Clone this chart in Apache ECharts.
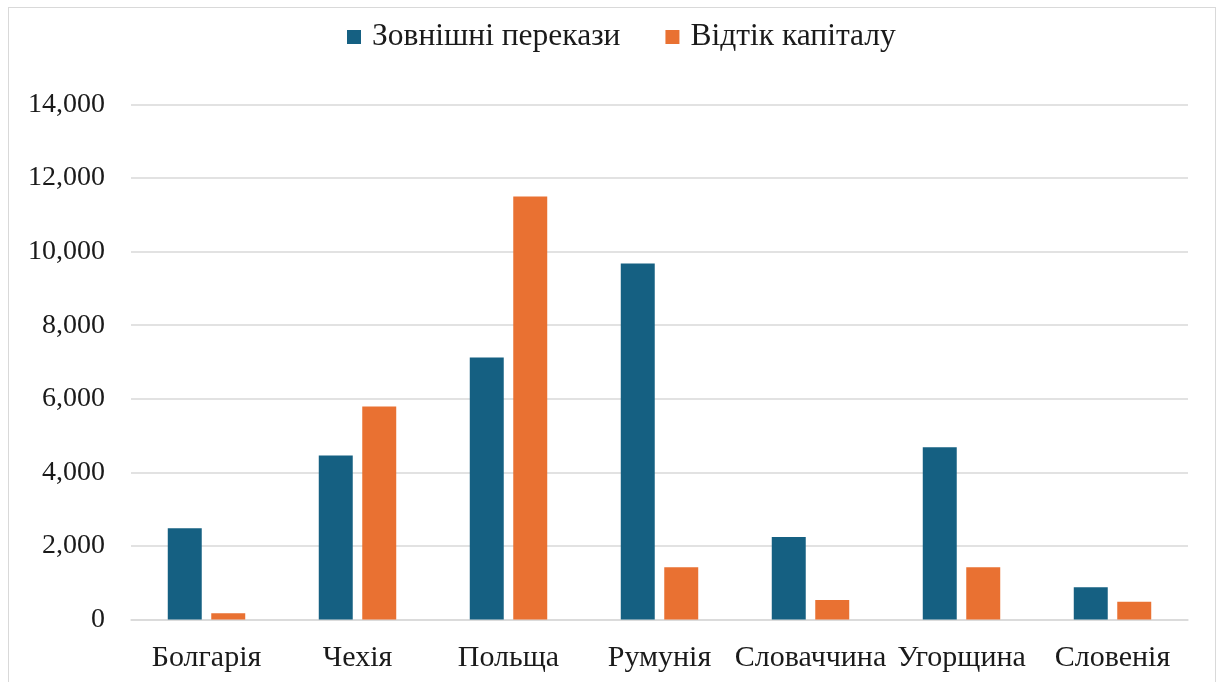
<!DOCTYPE html>
<html>
<head>
<meta charset="utf-8">
<script src="https://cdn.jsdelivr.net/npm/echarts@6/dist/echarts.min.js"></script>
<style>
html,body{margin:0;padding:0;background:#fff;}
#frame{position:absolute;left:8px;top:7px;width:1208px;height:690px;border:1.5px solid #d9d9d9;box-sizing:border-box;}
#chart{position:absolute;left:0;top:0;width:1216px;height:682px;}
</style>
</head>
<body>
<div id="frame"></div>
<div id="chart"></div>
<script>
const categories = ['Болгарія', 'Чехія', 'Польща', 'Румунія', 'Словаччина', 'Угорщина', 'Словенія'];
const remittances = [2480, 4460, 7120, 9680, 2240, 4680, 880];
const capitalOutflow = [170, 5790, 11500, 1420, 530, 1420, 480];
const seriesNames = ['Зовнішні перекази', 'Відтік капіталу'];
const yTicks = { min: 0, max: 14000, interval: 2000 };

const font = '"Liberation Serif", "Times New Roman", serif';
const chart = echarts.init(document.getElementById('chart'));
chart.setOption({
  animation: false,
  textStyle: { fontFamily: font },
  legend: {
    top: 16,
    left: 342,
    itemWidth: 14,
    itemHeight: 14,
    itemGap: 45,
    icon: 'rect',
    textStyle: { fontFamily: font, fontSize: 31.5, color: '#1a1a1a', padding: [0, 0, 0, 6] },
    data: seriesNames
  },
  grid: { left: 131, right: 28, top: 104.5, bottom: 62.5, containLabel: false },
  xAxis: {
    type: 'category',
    data: categories,
    axisLine: { lineStyle: { color: '#d9d9d9', width: 1.5 } },
    axisTick: { show: false },
    axisLabel: { fontFamily: font, fontSize: 30, color: '#1a1a1a', margin: 24, interval: 0 }
  },
  yAxis: {
    type: 'value',
    min: yTicks.min, max: yTicks.max, interval: yTicks.interval,
    axisLine: { show: false },
    axisTick: { show: false },
    splitLine: { lineStyle: { color: '#d9d9d9', width: 1.5 } },
    axisLabel: {
      fontFamily: font, fontSize: 28, color: '#1a1a1a', margin: 26,
      padding: [4, 0, 0, 0],
      formatter: v => v.toLocaleString('en-US')
    }
  },
  series: [
    {
      name: seriesNames[0], type: 'bar', data: remittances,
      itemStyle: { color: '#156082' },
      barWidth: '22.5%', barGap: '28%'
    },
    {
      name: seriesNames[1], type: 'bar', data: capitalOutflow,
      itemStyle: { color: '#E97132' },
      barWidth: '22.5%', barGap: '28%'
    }
  ]
});
</script>
</body>
</html>
